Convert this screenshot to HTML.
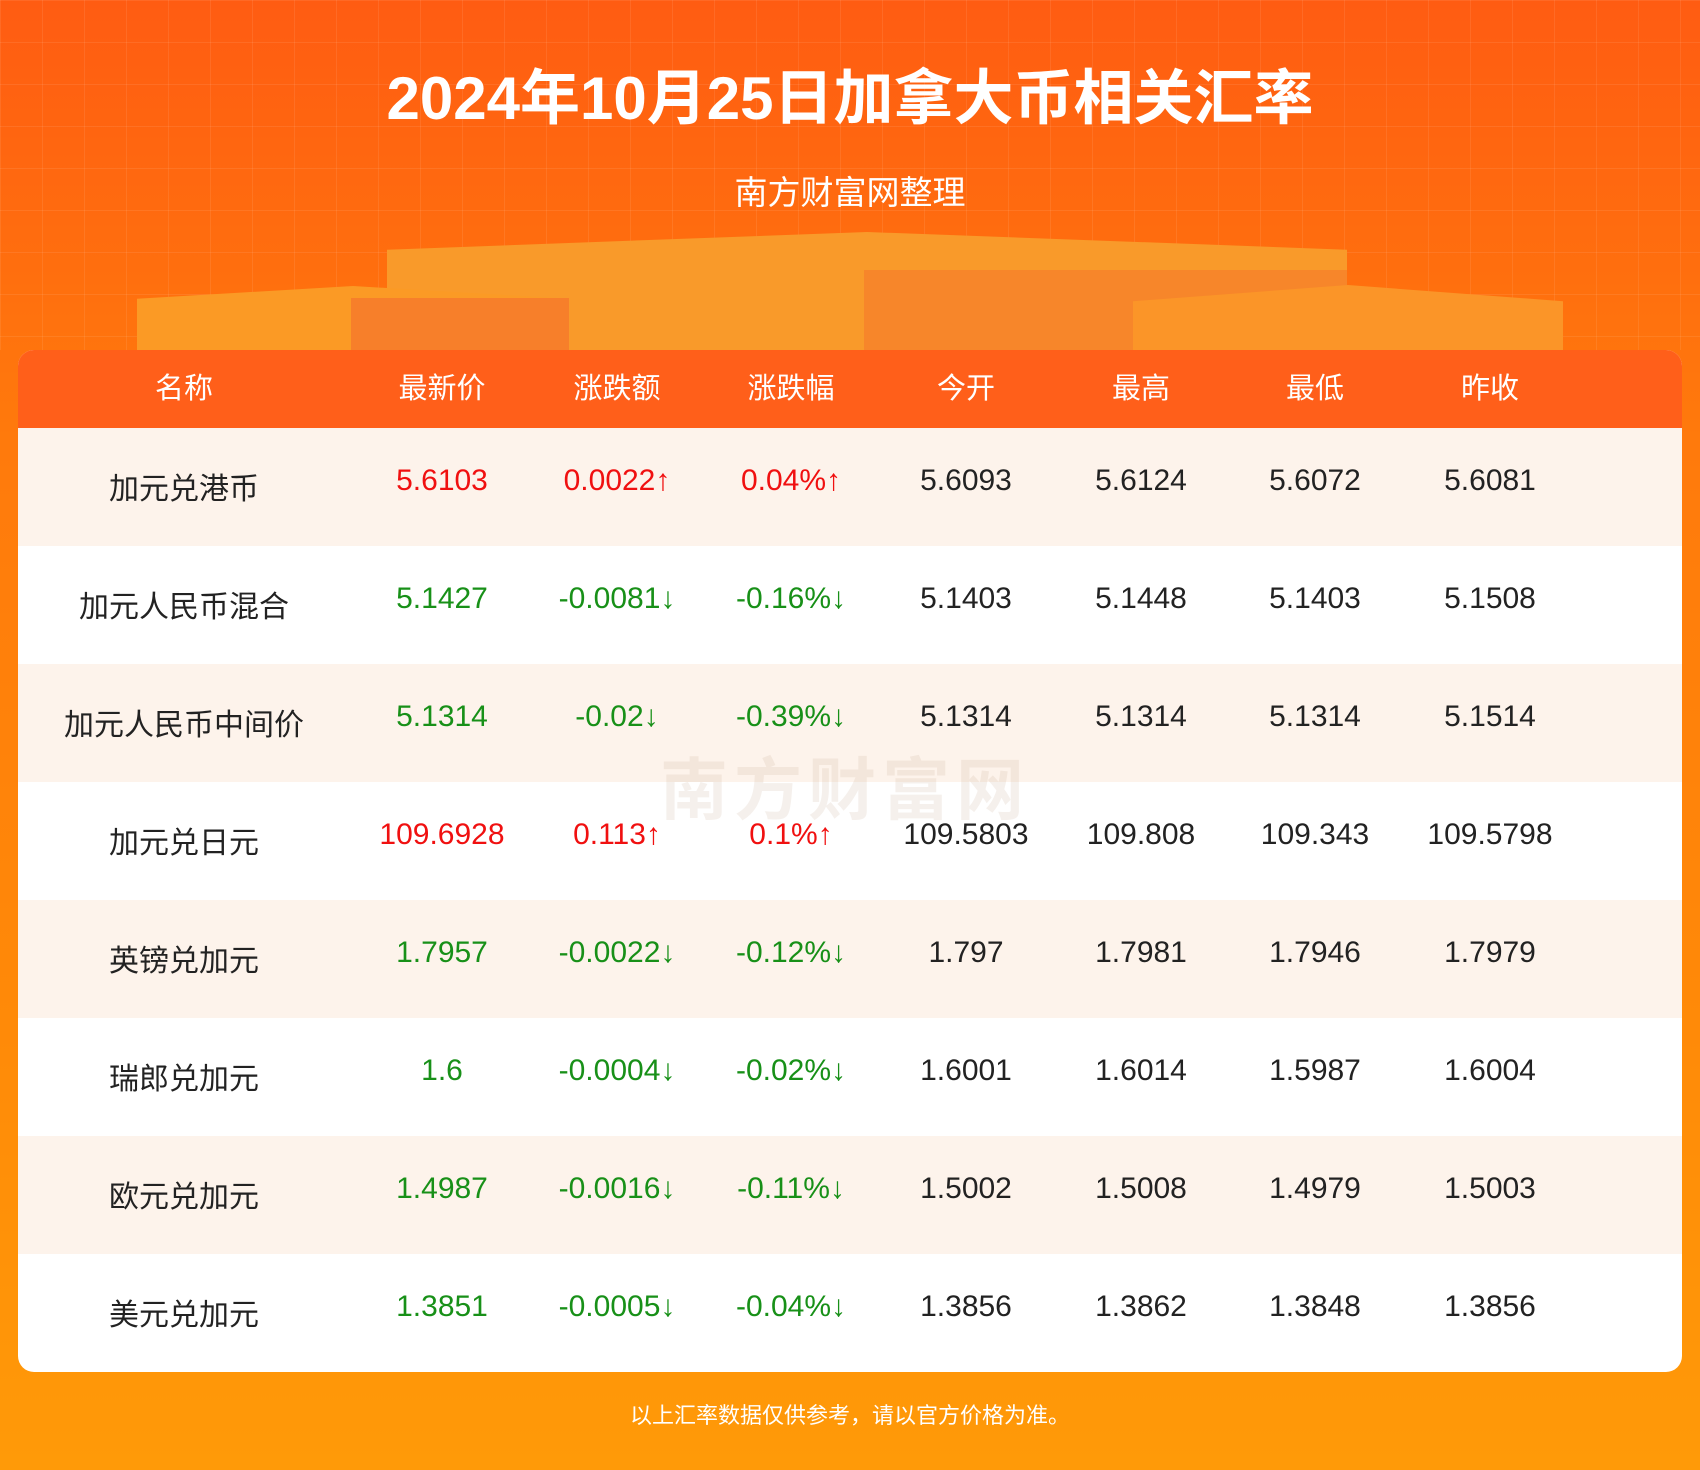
<!DOCTYPE html>
<html><head><meta charset="utf-8"><style>
*{margin:0;padding:0;box-sizing:border-box}
body{width:1700px;height:1470px;overflow:hidden;position:relative;font-family:"Liberation Sans","Noto Sans CJK SC",sans-serif;background:linear-gradient(180deg,#ff5c12 0%,#ff7a0c 30%,#ff8a08 70%,#ff9a08 100%)}
.grid{position:absolute;left:0;top:0;width:1700px;height:350px;background-image:linear-gradient(rgba(255,255,255,.08) 1px,transparent 1px),linear-gradient(90deg,rgba(255,255,255,.08) 1px,transparent 1px);background-size:42px 42px}
.box{position:absolute}
h1{position:absolute;top:50px;left:0;width:1700px;text-align:center;color:#fff;font-size:60px;font-weight:bold;letter-spacing:0}
.sub{position:absolute;top:166px;left:0;width:1700px;text-align:center;color:#fff;font-size:33px}
.card{position:absolute;left:18px;top:350px;width:1664px;height:1022px;background:#fff;border-radius:16px;overflow:hidden}
.hd{height:78px;background:#ff5f1a;color:#fff;font-size:29px}
.row{height:118px;font-size:30px;color:#222}
.row:nth-child(even){background:#fdf3eb}
.c{position:absolute;width:300px;text-align:center;margin-left:-150px;white-space:nowrap}
.hd,.row{position:relative}
.hd .c{top:15px}.row .c{top:36px}
.r{color:#f01010}.g{color:#189018}
.foot{position:absolute;top:1398px;left:0;width:1700px;text-align:center;color:#fff;font-size:22px}
.wm{position:absolute;left:660px;top:735px;font-size:68px;color:rgba(200,170,150,.18);font-weight:bold;letter-spacing:6px}
</style></head><body>
<div class="grid"></div>
<div class="box" style="left:387px;top:232px;width:960px;height:118px;background:#f99a2a;clip-path:polygon(0 15%,50% 0,100% 15%,100% 100%,0 100%)"></div>
<div class="box" style="left:864px;top:270px;width:483px;height:80px;background:#f7862a"></div>
<div class="box" style="left:137px;top:286px;width:432px;height:64px;background:#fb9a25;clip-path:polygon(0 20%,50% 0,100% 20%,100% 100%,0 100%)"></div>
<div class="box" style="left:351px;top:298px;width:218px;height:52px;background:#f77f2a"></div>
<div class="box" style="left:1133px;top:285px;width:430px;height:65px;background:#fb9528;clip-path:polygon(0 25%,50% 0,100% 25%,100% 100%,0 100%)"></div>
<h1>2024年10月25日加拿大币相关汇率</h1>
<div class="sub">南方财富网整理</div>
<div class="card">
<div class="hd"><span class="c" style="left:166px">名称</span><span class="c" style="left:424px">最新价</span><span class="c" style="left:599px">涨跌额</span><span class="c" style="left:773px">涨跌幅</span><span class="c" style="left:948px">今开</span><span class="c" style="left:1123px">最高</span><span class="c" style="left:1297px">最低</span><span class="c" style="left:1472px">昨收</span></div>
<div class="row"><span class="c" style="left:166px">加元兑港币</span><span class="c r" style="left:424px">5.6103</span><span class="c r" style="left:599px">0.0022↑</span><span class="c r" style="left:773px">0.04%↑</span><span class="c" style="left:948px">5.6093</span><span class="c" style="left:1123px">5.6124</span><span class="c" style="left:1297px">5.6072</span><span class="c" style="left:1472px">5.6081</span></div>
<div class="row"><span class="c" style="left:166px">加元人民币混合</span><span class="c g" style="left:424px">5.1427</span><span class="c g" style="left:599px">-0.0081↓</span><span class="c g" style="left:773px">-0.16%↓</span><span class="c" style="left:948px">5.1403</span><span class="c" style="left:1123px">5.1448</span><span class="c" style="left:1297px">5.1403</span><span class="c" style="left:1472px">5.1508</span></div>
<div class="row"><span class="c" style="left:166px">加元人民币中间价</span><span class="c g" style="left:424px">5.1314</span><span class="c g" style="left:599px">-0.02↓</span><span class="c g" style="left:773px">-0.39%↓</span><span class="c" style="left:948px">5.1314</span><span class="c" style="left:1123px">5.1314</span><span class="c" style="left:1297px">5.1314</span><span class="c" style="left:1472px">5.1514</span></div>
<div class="row"><span class="c" style="left:166px">加元兑日元</span><span class="c r" style="left:424px">109.6928</span><span class="c r" style="left:599px">0.113↑</span><span class="c r" style="left:773px">0.1%↑</span><span class="c" style="left:948px">109.5803</span><span class="c" style="left:1123px">109.808</span><span class="c" style="left:1297px">109.343</span><span class="c" style="left:1472px">109.5798</span></div>
<div class="row"><span class="c" style="left:166px">英镑兑加元</span><span class="c g" style="left:424px">1.7957</span><span class="c g" style="left:599px">-0.0022↓</span><span class="c g" style="left:773px">-0.12%↓</span><span class="c" style="left:948px">1.797</span><span class="c" style="left:1123px">1.7981</span><span class="c" style="left:1297px">1.7946</span><span class="c" style="left:1472px">1.7979</span></div>
<div class="row"><span class="c" style="left:166px">瑞郎兑加元</span><span class="c g" style="left:424px">1.6</span><span class="c g" style="left:599px">-0.0004↓</span><span class="c g" style="left:773px">-0.02%↓</span><span class="c" style="left:948px">1.6001</span><span class="c" style="left:1123px">1.6014</span><span class="c" style="left:1297px">1.5987</span><span class="c" style="left:1472px">1.6004</span></div>
<div class="row"><span class="c" style="left:166px">欧元兑加元</span><span class="c g" style="left:424px">1.4987</span><span class="c g" style="left:599px">-0.0016↓</span><span class="c g" style="left:773px">-0.11%↓</span><span class="c" style="left:948px">1.5002</span><span class="c" style="left:1123px">1.5008</span><span class="c" style="left:1297px">1.4979</span><span class="c" style="left:1472px">1.5003</span></div>
<div class="row"><span class="c" style="left:166px">美元兑加元</span><span class="c g" style="left:424px">1.3851</span><span class="c g" style="left:599px">-0.0005↓</span><span class="c g" style="left:773px">-0.04%↓</span><span class="c" style="left:948px">1.3856</span><span class="c" style="left:1123px">1.3862</span><span class="c" style="left:1297px">1.3848</span><span class="c" style="left:1472px">1.3856</span></div>
</div>
<div class="wm">南方财富网</div>
<div class="foot">以上汇率数据仅供参考，请以官方价格为准。</div>
</body></html>
